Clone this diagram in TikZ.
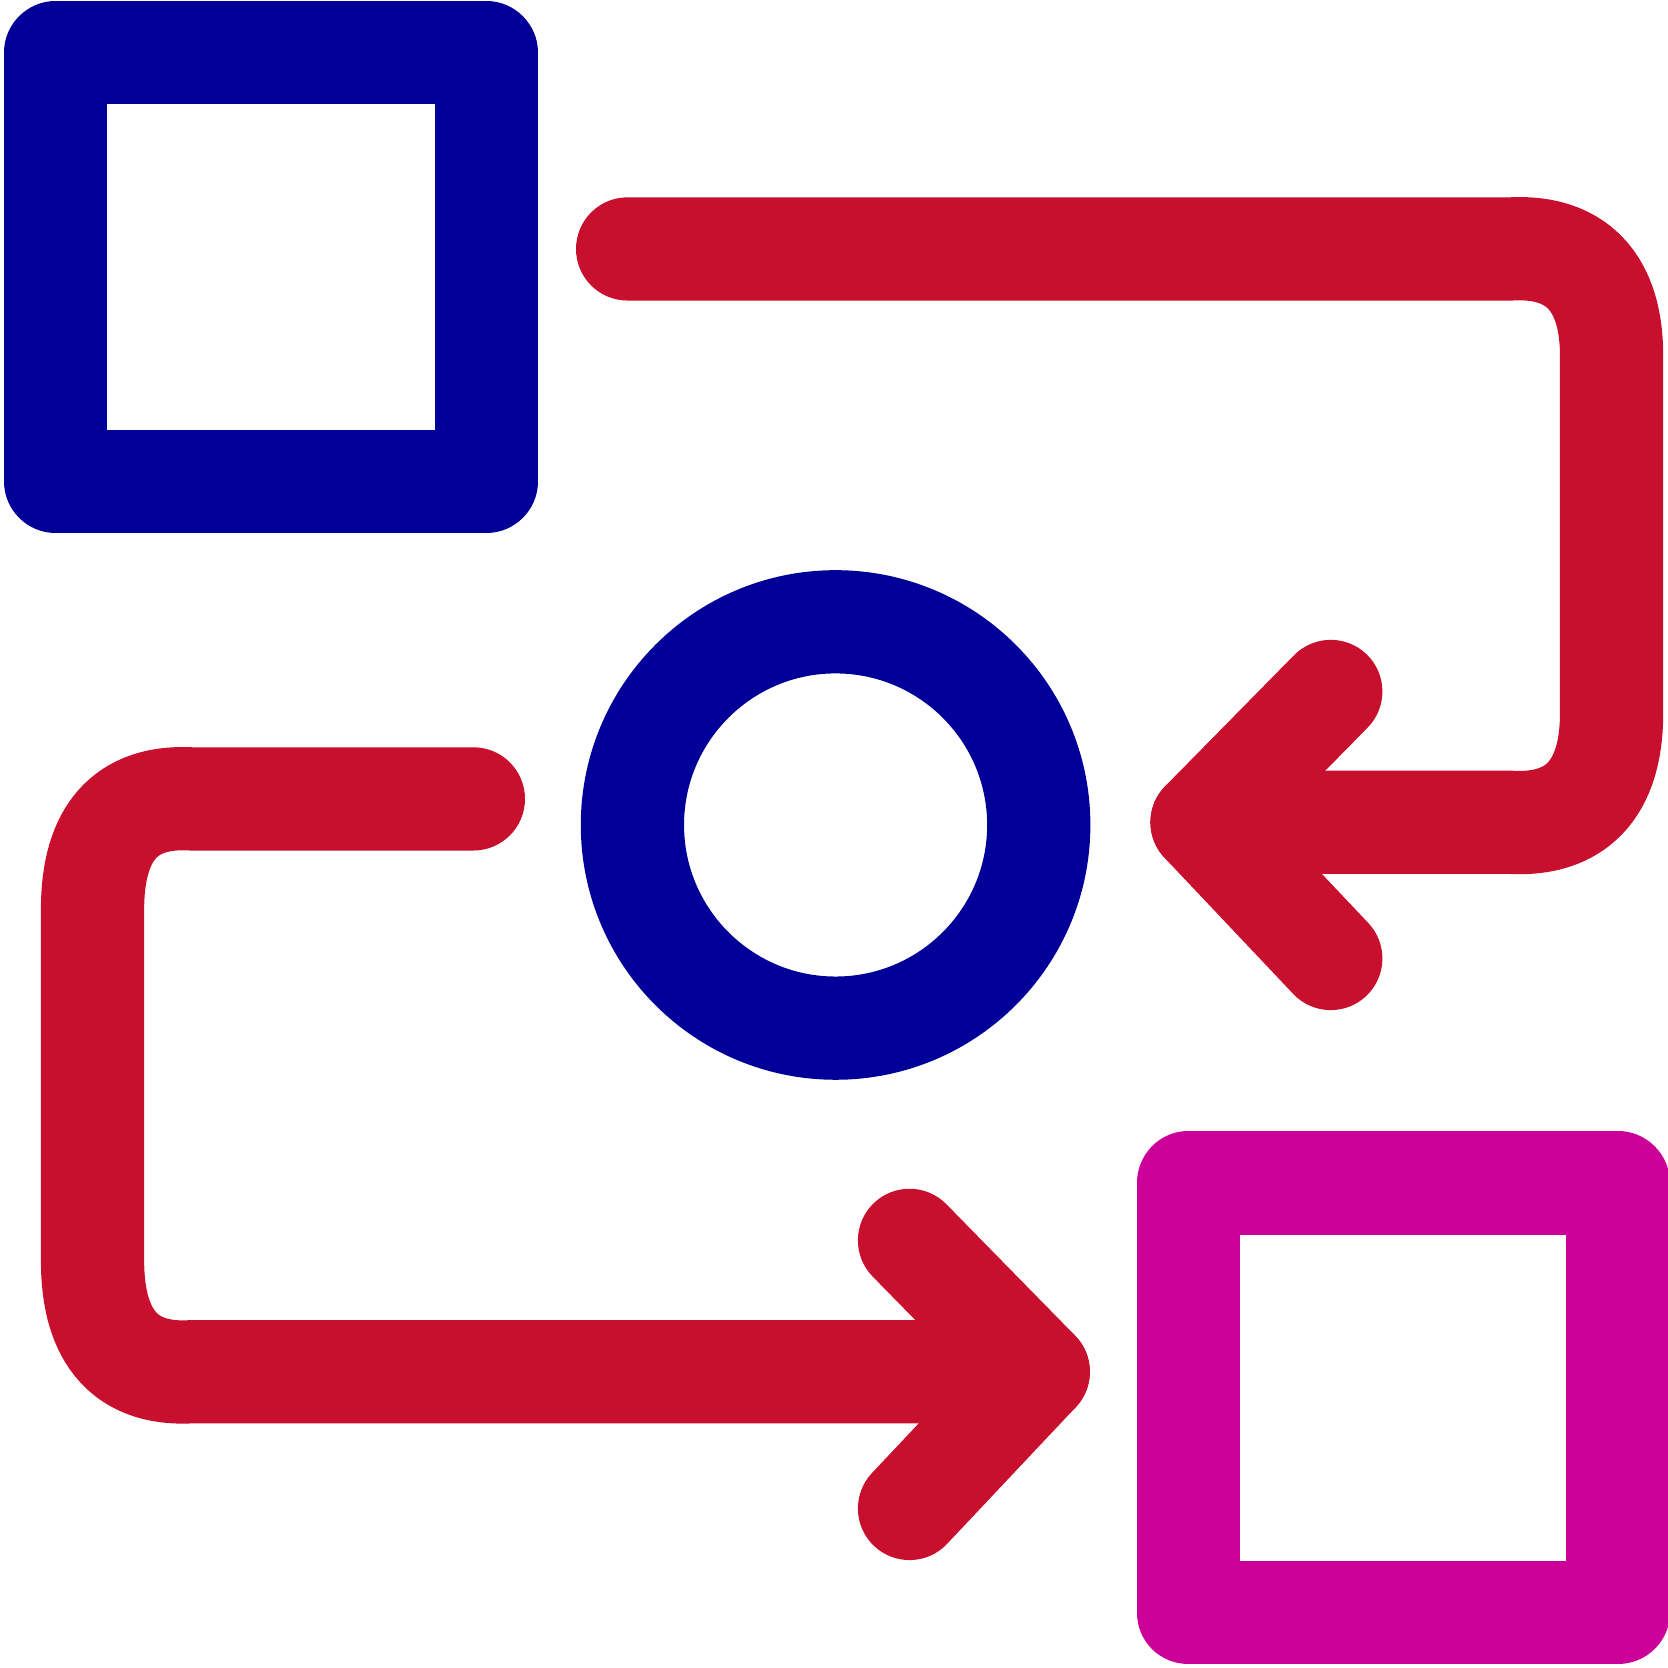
\documentclass[tikz,border=0pt]{standalone}
\definecolor{iblue}{RGB}{0,0,153}
\definecolor{ired}{RGB}{200,16,46}
\definecolor{imag}{RGB}{204,0,153}
\begin{document}
\begin{tikzpicture}[x=0.01cm,y=-0.01cm,
  stroke/.style={line width=0.97cm,line join=round,line cap=round}]
\useasboundingbox (0,0) rectangle (1568,1568);
\clip (0,0) rectangle (1568,1568);
% blue square
\draw[stroke,iblue] (52.5,49.5) rectangle (457,452.5);
% circle
\draw[stroke,iblue] (785.5,775.5) circle (191);
% magenta square
\draw[stroke,imag] (1117,1112) rectangle (1521,1516);
% top red arrow
\coordinate (t1) at (1130,773);
\draw[stroke,ired] (590,234) -- (1420,234)
  .. controls (1472,231) and (1515,255) .. (1515,335)
  -- (1515,670)
  .. controls (1515,752) and (1472,776) .. (1420,773)
  -- (t1);
\draw[stroke,ired] (1251,650) -- (t1) -- (1251,901);
% bottom red arrow
\coordinate (t2) at (976,1289.5);
\draw[stroke,ired] (445,751) -- (180,751)
  .. controls (128,748) and (87,772) .. (87,855)
  -- (87,1185)
  .. controls (87,1268) and (128,1292.5) .. (180,1289.5)
  -- (t2);
\draw[stroke,ired] (855,1166) -- (t2) -- (855,1418);
\end{tikzpicture}
\end{document}
